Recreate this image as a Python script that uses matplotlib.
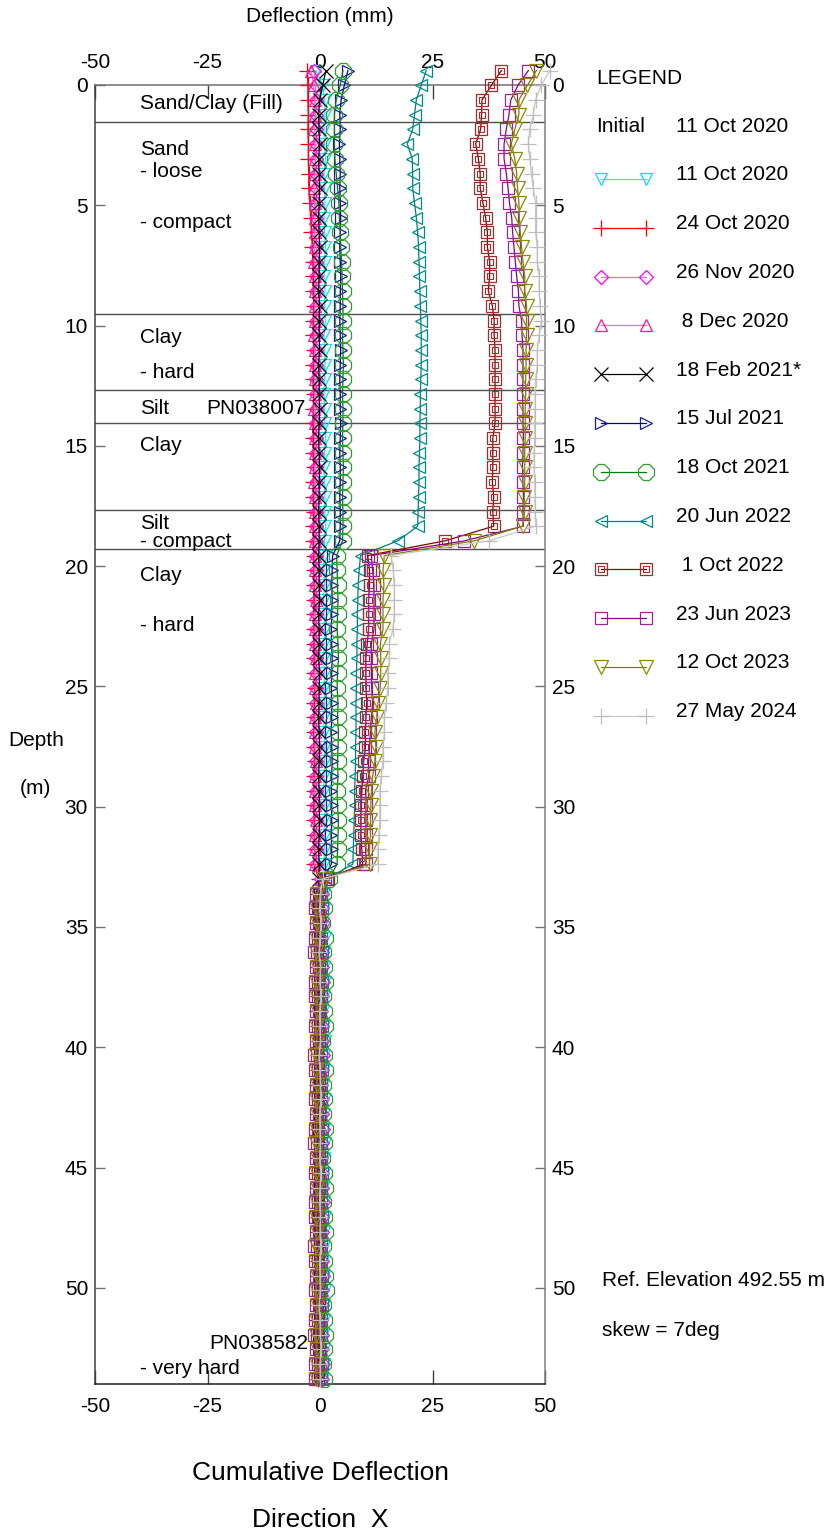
import numpy as np
import matplotlib
matplotlib.use("Agg")
import matplotlib.pyplot as plt
from matplotlib.lines import Line2D

plt.rcParams['font.family'] = ['Liberation Sans', 'DejaVu Sans']

W, H = 830, 1537

# Reading depths (2 ft interval), metres below top of casing
depth_m = np.round(-0.6 + 0.611 * np.arange(90), 2)

# Cumulative deflection (mm) per survey, one value per reading depth
oct11_2020 = [
    -0.9, 0.6, 1.0, 1.1, 0.9, 1.0, 1.2, 0.9, 1.0, 1.1,
    0.9, 1.0, 1.2, 1.0, 0.9, 1.1, 1.0, 1.2, 0.9, 1.0,
    1.1, 1.0, 0.9, 1.0, 1.1, 1.2, 1.0, 0.9, 1.0, 1.1,
    1.0, 1.2, 1.0,
    0.8, 0.9, 1.0, 0.8, 0.9, 1.1, 0.9, 0.8, 1.0, 0.9,
    1.0, 0.8, 0.9, 1.1, 1.0, 0.9, 0.8, 1.0, 0.9, 1.1,
    1.0, 0.9,
    0.6, 0.8, 0.9, 0.7, 1.0, 0.8, 0.9, 1.1, 0.8, 0.7,
    0.9, 1.0, 0.8, 0.9, 0.7, 1.0, 0.9, 0.8, 1.1, 0.9,
    0.8, 0.7, 0.9, 1.0, 0.8, 0.9, 0.7, 0.8, 1.0, 0.9,
    0.8, 0.7, 0.9, 0.8, 0.6]
oct24_2020 = [
    -2.8, -2.7, -2.7, -2.6, -2.7, -2.6, -2.6, -2.5, -2.5, -2.3,
    -2.1, -1.9, -1.7, -1.6, -1.5, -1.5, -1.4, -1.5, -1.5, -1.4,
    -1.5, -1.5, -1.4, -1.5, -1.6, -1.5, -1.5, -1.4, -1.5, -1.5,
    -1.4, -1.5, -1.5,
    -1.4, -1.4, -1.3, -1.4, -1.3, -1.3, -1.4, -1.3, -1.3, -1.2,
    -1.3, -1.3, -1.4, -1.3, -1.2, -1.3, -1.3, -1.4, -1.3, -1.3,
    -1.2, -1.3,
    -0.3, -0.5, -0.4, -0.6, -0.3, -0.5, -0.4, -0.2, -0.5, -0.6,
    -0.4, -0.3, -0.5, -0.4, -0.6, -0.3, -0.4, -0.5, -0.3, -0.4,
    -0.6, -0.5, -0.3, -0.4, -0.5, -0.2, -0.4, -0.5, -0.3, -0.4,
    -0.6, -0.5, -0.4, -0.3, -0.5]
nov26_2020 = [
    -1.3, -1.0, -0.9, -1.0, -0.8, -0.9, -1.0, -0.9, -0.8, -0.9,
    -1.0, -0.9, -0.8, -0.9, -0.9, -1.0, -0.8, -0.9, -0.9, -1.0,
    -0.9, -0.8, -0.9, -1.0, -0.9, -0.8, -0.9, -0.9, -1.0, -0.9,
    -0.8, -0.9, -0.9,
    -0.8, -0.9, -0.8, -0.9, -1.0, -0.8, -0.9, -0.8, -0.9, -0.8,
    -0.9, -1.0, -0.8, -0.9, -0.8, -0.9, -0.8, -0.9, -1.0, -0.8,
    -0.9, -0.8,
    0.3, 0.5, 0.4, 0.6, 0.3, 0.5, 0.4, 0.6, 0.5, 0.3,
    0.4, 0.5, 0.6, 0.4, 0.3, 0.5, 0.4, 0.6, 0.5, 0.3,
    0.4, 0.5, 0.6, 0.4, 0.5, 0.3, 0.4, 0.6, 0.5, 0.4,
    0.3, 0.5, 0.4, 0.6, 0.5]
dec08_2020 = [
    -2.0, -1.4, -1.2, -1.1, -1.3, -1.2, -1.1, -1.2, -1.3, -1.2,
    -1.1, -1.2, -1.2, -1.3, -1.1, -1.2, -1.2, -1.1, -1.3, -1.2,
    -1.2, -1.1, -1.2, -1.3, -1.2, -1.1, -1.2, -1.2, -1.3, -1.2,
    -1.1, -1.2, -1.2,
    -1.1, -1.2, -1.1, -1.0, -1.2, -1.1, -1.1, -1.0, -1.2, -1.1,
    -1.0, -1.1, -1.2, -1.1, -1.0, -1.1, -1.2, -1.1, -1.0, -1.1,
    -1.1, -1.2,
    0.2, 0.4, 0.3, 0.5, 0.2, 0.4, 0.3, 0.5, 0.4, 0.2,
    0.3, 0.4, 0.5, 0.3, 0.2, 0.4, 0.3, 0.5, 0.4, 0.2,
    0.3, 0.4, 0.5, 0.3, 0.4, 0.2, 0.3, 0.5, 0.4, 0.3,
    0.2, 0.4, 0.3, 0.5, 0.4]
feb18_2021 = [
    1.3, 0.6, -0.1, -0.3, -0.2, -0.1, -0.3, -0.2, -0.1, -0.2,
    -0.3, -0.2, -0.1, -0.2, -0.2, -0.3, -0.1, -0.2, -0.2, -0.1,
    -0.3, -0.2, -0.2, -0.1, -0.2, -0.3, -0.2, -0.1, -0.2, -0.2,
    -0.3, -0.2, -0.2,
    -0.3, -0.2, -0.2, -0.1, -0.3, -0.2, -0.2, -0.3, -0.1, -0.2,
    -0.2, -0.3, -0.2, -0.1, -0.2, -0.3, -0.2, -0.2, -0.1, -0.2,
    -0.3, -0.2,
    -0.2]
jul15_2021 = [
    6.2, 5.4, 4.7, 4.4, 4.5, 4.3, 4.4, 4.5, 4.4, 4.5,
    4.6, 4.5, 4.4, 4.5, 4.6, 4.5, 4.5, 4.4, 4.5, 4.6,
    4.5, 4.4, 4.5, 4.5, 4.6, 4.5, 4.4, 4.5, 4.5, 4.4,
    4.5, 4.5, 4.4,
    2.8, 2.7, 2.6, 2.7, 2.6, 2.5, 2.6, 2.7, 2.6, 2.5,
    2.6, 2.6, 2.5, 2.6, 2.7, 2.6, 2.5, 2.6, 2.6, 2.5,
    2.6, 2.5,
    0.8, 0.1, -0.2, 0.0, -0.1, 0.1, -0.2, 0.0, -0.1, 0.1,
    0.0, -0.2, -0.1, 0.0, 0.1, -0.1, 0.0, -0.2, -0.1, 0.0,
    0.1, -0.1, 0.0, -0.2, -0.1, 0.0, 0.1, -0.1, 0.0, -0.1,
    0.0, -0.2, -0.1, 0.0, 0.1]
oct18_2021 = [
    5.1, 4.5, 3.6, 3.2, 3.2, 3.2, 3.3, 3.6, 3.9, 4.2,
    4.3, 4.5, 4.6, 4.8, 4.9, 5.0, 5.1, 5.1, 5.0, 5.1,
    5.2, 5.1, 5.0, 5.1, 5.1, 5.0, 5.1, 5.2, 5.1, 5.0,
    5.1, 5.1, 5.0,
    3.7, 3.8, 3.9, 4.0, 3.9, 3.8, 4.0, 4.1, 3.9, 3.8,
    4.0, 3.9, 4.1, 4.0, 3.9, 4.0, 3.8, 3.9, 4.1, 4.0,
    3.9, 3.8,
    2.0, 0.6, 0.9, 0.5, 1.1, 0.7, 0.8, 1.2, 0.6, 0.9,
    1.0, 0.5, 0.8, 1.1, 0.7, 0.9, 0.6, 1.0, 0.8, 0.5,
    0.9, 1.2, 0.7, 0.8, 1.0, 0.6, 0.9, 1.1, 1.4, 0.7,
    0.9, 1.0, 0.8, 0.6, 0.9]
jun20_2022 = [
    23.6, 22.5, 21.4, 21.0, 20.6, 19.4, 20.5, 20.6, 20.6, 21.0,
    21.4, 21.7, 21.9, 22.0, 22.1, 22.2, 22.3, 22.4, 22.5, 22.5,
    22.5, 22.4, 22.3, 22.3, 22.2, 22.2, 22.1, 22.0, 22.0, 21.9,
    21.8, 21.7, 17.3,
    9.0, 8.7, 8.5, 8.4, 8.3, 8.3, 8.2, 8.2, 8.1, 8.1,
    8.0, 8.0, 8.0, 7.9, 7.9, 7.8, 7.7, 7.7, 7.6, 7.5,
    7.4, 7.3,
    1.5, 0.2, 0.4, 0.1, 0.3, 0.5, 0.2, 0.4, 0.3, 0.1,
    0.4, 0.2, 0.3, 0.5, 0.2, 0.3, 0.1, 0.4, 0.3, 0.2,
    0.5, 0.3, 0.2, 0.4, 0.1, 0.3, 0.2, 0.4, 0.3, 0.5,
    0.2, 0.3, 0.1, 0.4, 0.3]
oct01_2022 = [
    40.3, 38.1, 36.0, 35.9, 35.7, 34.6, 35.2, 35.6, 35.6, 36.2,
    36.8, 37.2, 37.2, 37.7, 37.7, 37.4, 38.3, 38.7, 38.7, 38.9,
    38.9, 38.9, 38.9, 38.9, 38.9, 38.4, 38.4, 38.4, 38.3, 38.6,
    38.4, 38.6, 27.8,
    10.6, 11.0, 11.0, 10.8, 10.8, 10.8, 10.5, 10.2, 10.2, 10.2,
    10.4, 10.2, 10.1, 10.1, 9.7, 9.5, 9.3, 9.1, 9.1, 9.1,
    9.3, 9.5,
    1.7, -0.3, -0.5, -0.2, -0.4, -0.6, -0.3, -0.5, -0.4, -0.2,
    -0.5, -0.3, -0.6, -0.4, -0.2, -0.5, -0.3, -0.4, -0.6, -0.3,
    -0.5, -0.2, -0.4, -0.5, -0.3, -0.6, -0.4, -0.2, -0.5, -0.3,
    -0.4, -0.6, -0.3, -0.5, -0.4]
jun23_2023 = [
    46.3, 44.0, 42.4, 42.0, 41.4, 40.9, 40.9, 41.4, 41.8, 42.1,
    42.6, 42.8, 43.1, 43.4, 43.7, 44.1, 44.2, 44.8, 44.9, 45.1,
    45.1, 45.1, 45.0, 45.1, 45.1, 45.2, 45.1, 45.0, 45.1, 45.2,
    45.1, 45.2, 32.1,
    11.4, 11.7, 12.0, 12.0, 12.0, 12.0, 11.4, 11.4, 11.4, 11.5,
    11.7, 11.4, 11.2, 11.0, 10.8, 10.8, 10.2, 10.2, 10.2, 10.2,
    10.2, 10.2,
    1.0, -1.0, -1.2, -0.9, -1.1, -1.3, -1.0, -1.2, -1.1, -0.9,
    -1.2, -1.0, -1.3, -1.1, -0.9, -1.2, -1.0, -1.1, -1.3, -1.0,
    -1.2, -0.9, -1.1, -1.2, -1.0, -1.3, -1.1, -0.9, -1.2, -1.0,
    -1.1, -1.3, -1.0, -1.2, -1.1]
oct12_2023 = [
    48.1, 46.1, 44.2, 44.2, 43.3, 42.5, 43.3, 43.7, 43.9, 44.2,
    44.3, 44.5, 44.8, 45.1, 45.5, 45.5, 45.9, 45.9, 45.9, 45.8,
    45.8, 45.7, 45.7, 45.6, 45.6, 45.6, 45.5, 45.5, 45.5, 45.4,
    45.5, 45.0, 34.3,
    14.3, 14.0, 14.2, 14.0, 14.0, 14.0, 13.4, 13.5, 13.5, 13.4,
    12.9, 12.6, 12.2, 12.4, 12.2, 11.7, 11.4, 11.3, 11.2, 11.2,
    11.0, 11.0,
    0.8, -0.7, -0.9, -0.6, -0.8, -1.0, -0.7, -0.9, -0.8, -0.6,
    -0.9, -0.7, -1.0, -0.8, -0.6, -0.9, -0.7, -0.8, -1.0, -0.7,
    -0.9, -0.6, -0.8, -0.9, -0.7, -1.0, -0.8, -0.6, -0.9, -0.7,
    -0.8, -1.0, -0.7, -0.9, -0.8]
may27_2024 = [
    51.0, 49.2, 47.9, 47.4, 46.6, 46.3, 46.6, 47.0, 47.4, 47.9,
    47.9, 47.9, 48.3, 48.3, 48.7, 48.7, 48.9, 49.2, 48.7, 48.3,
    48.3, 47.9, 47.8, 47.8, 47.7, 47.7, 47.6, 47.6, 47.7, 47.8,
    47.8, 47.9, 37.6,
    15.8, 16.3, 16.5, 16.5, 16.5, 16.2, 15.4, 15.4, 15.1, 15.1,
    14.7, 14.3, 14.3, 14.0, 14.0, 13.6, 13.3, 13.3, 13.3, 13.1,
    12.9, 12.9,
    0.6, 0.1, -0.1, 0.2, 0.0, -0.2, 0.1, 0.0, 0.2, -0.1,
    0.0, 0.1, -0.2, 0.0, 0.1, 0.2, -0.1, 0.0, 0.1, -0.1,
    0.2, 0.0, -0.1, 0.1, 0.0, 0.2, -0.1, 0.0, 0.1, -0.2,
    0.0, 0.1, 0.2, 0.0, 0.1]

survey_labels = ["11 Oct 2020", "24 Oct 2020", "26 Nov 2020", " 8 Dec 2020",
                 "18 Feb 2021*", "15 Jul 2021", "18 Oct 2021", "20 Jun 2022",
                 " 1 Oct 2022", "23 Jun 2023", "12 Oct 2023", "27 May 2024"]
survey_values = [oct11_2020, oct24_2020, nov26_2020, dec08_2020, feb18_2021,
                 jul15_2021, oct18_2021, jun20_2022, oct01_2022, jun23_2023,
                 oct12_2023, may27_2024]

# Soil log
layer_bounds = [1.53, 9.54, 12.66, 14.05, 17.65, 19.27]
layer_text = ["Sand/Clay (Fill)", "Sand", "- loose", "- compact", "Clay", "- hard",
              "Silt", "Clay", "Silt", "- compact", "Clay", "- hard", "- very hard"]
layer_text_depth = [0.75, 2.7, 3.58, 5.7, 10.48, 11.94,
                    13.44, 14.97, 18.22, 18.97, 20.38, 22.46, 53.36]
casing_ids = ["PN038007", "PN038582"]
casing_id_depth = [13.44, 52.3]

# Drawing styles: (line colour, marker, marker size, marker edge colour)
styles = [
    ("#00FFFF", "v", 9, "#00E5EE"),
    ("#FF0000", "+", 11, "#FF0000"),
    ("#FF66FF", "D", 7, "#FF00FF"),
    ("#FF6EB4", "^", 8, "#FF1493"),
    ("#000000", "x", 10, "#000000"),
    ("#000099", ">", 8, "#1A1AA0"),
    ("#008000", "8", 12, "#2E9E2E"),
    ("#008080", "<", 9, "#008B8B"),
    ("#8B0000", "s", 9, "#A52A2A"),
    ("#8B008B", "s", 9, "#A020A0"),
    ("#808000", "v", 10, "#8B8B00"),
    ("#C8C8C8", "+", 11, "#BEBEBE"),
]

fig = plt.figure(figsize=(W / 100, H / 100), dpi=100)
ax = fig.add_axes([95 / W, 1 - 1384 / H, 450 / W, (1384 - 85) / H])

for vals, (lc, mk, ms, mec) in zip(survey_values, styles):
    d = depth_m[:len(vals)]
    ax.plot(vals, d, color=lc, lw=0.9, marker=mk, ms=ms, mfc="none",
            mec=mec, mew=0.9, clip_on=False, zorder=3)
    if lc == "#8B0000":
        ax.plot(vals, d, ls="none", marker="s", ms=4, mfc="none",
                mec=mec, mew=0.8, clip_on=False, zorder=3)

for b in layer_bounds:
    ax.axhline(b, color="#505050", lw=1.0, zorder=2)

for name, dep in zip(layer_text, layer_text_depth):
    ax.text(-40, dep, name, fontsize=15, va="center", ha="left", zorder=4)
ax.text(-3.1, casing_id_depth[0], casing_ids[0], fontsize=15, va="center", ha="right", zorder=4)
ax.text(-2.7, casing_id_depth[1], casing_ids[1], fontsize=15, va="center", ha="right", zorder=4)

ax.set_xlim(-50, 50)
ax.set_ylim(54, 0)
ax.set_xticks([-50, -25, 0, 25, 50])
ax.set_xticklabels(["-50", "-25", "0", "25", "50"])
ax.set_yticks(np.arange(0, 51, 5))
ax.tick_params(axis="x", which="both", direction="in", top=True, bottom=True,
               labeltop=True, labelbottom=True, length=10, width=1.0,
               color="#404040", labelsize=15, pad=9)
ax.tick_params(axis="y", which="both", direction="in", left=True, right=True,
               labelleft=True, labelright=True, length=7, width=1.0,
               color="#707070", labelsize=15, pad=5)

ax.spines["left"].set_color("#404040")
ax.spines["bottom"].set_color("#202020")
ax.spines["top"].set_color("#707070")
ax.spines["right"].set_color("#808080")
for s in ax.spines.values():
    s.set_linewidth(1.1)


def fx(px):
    return px / W


def fy(py):
    return 1 - py / H


fig.text(fx(320), fy(17), "Deflection (mm)", fontsize=15, ha="center", va="center")
fig.text(fx(8), fy(741), "Depth", fontsize=15, ha="left", va="center")
fig.text(fx(20), fy(789), "(m)", fontsize=15, ha="left", va="center")
fig.text(fx(320), fy(1473), "Cumulative Deflection", fontsize=19, ha="center", va="center")
fig.text(fx(320), fy(1520), "Direction  X", fontsize=19, ha="center", va="center")
fig.text(fx(602), fy(1280), "Ref. Elevation 492.55 m", fontsize=15, ha="left", va="center")
fig.text(fx(602), fy(1330), "skew = 7deg", fontsize=15, ha="left", va="center")

# Legend column
fig.text(fx(596), fy(78), "LEGEND", fontsize=15, ha="left", va="center")
fig.text(fx(596), fy(127), "Initial", fontsize=15, ha="left", va="center")
fig.text(fx(676), fy(127), "11 Oct 2020", fontsize=15, ha="left", va="center")
for i, (lab, (lc, mk, ms, mec)) in enumerate(zip(survey_labels, styles)):
    yc = 175 + 48.8 * i
    fig.add_artist(Line2D([fx(601), fx(646)], [fy(yc + 4), fy(yc + 4)], color=lc,
                          lw=0.9, marker=mk, ms=ms, mfc="none", mec=mec, mew=0.9))
    if lc == "#8B0000":
        fig.add_artist(Line2D([fx(601), fx(646)], [fy(yc + 4), fy(yc + 4)], ls="none",
                              marker="s", ms=4, mfc="none", mec=mec, mew=0.8))
    fig.text(fx(676), fy(yc), lab, fontsize=15, ha="left", va="center")

fig.savefig("out.png", dpi=100)
